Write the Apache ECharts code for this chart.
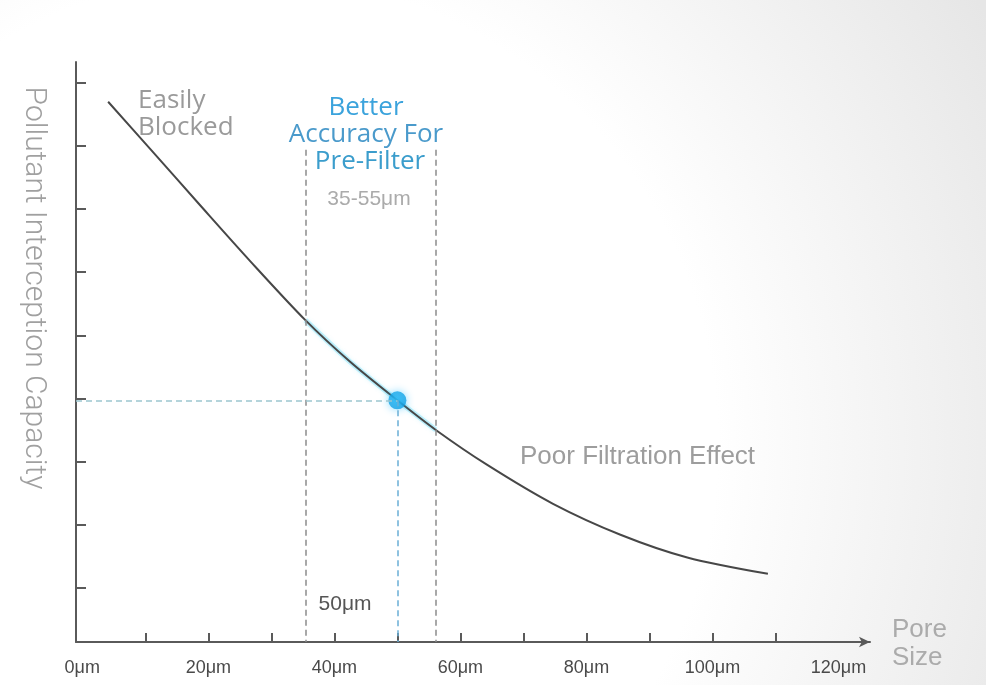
<!DOCTYPE html>
<html>
<head>
<meta charset="utf-8">
<script src="https://cdn.jsdelivr.net/npm/echarts@6/dist/echarts.min.js"></script>
<style>
html,body{margin:0;padding:0;background:#fff;}
#chart{width:986px;height:685px;}
</style>
</head>
<body>
<div id="chart"></div>
<script>
// ---- data ----
var poreSize = [4.1, 10.8, 18.7, 26.6, 35.4, 42.5, 50, 56.1, 64.2, 74.7, 85.4, 96, 108.8];
var capacity = [8.70, 7.95, 7.06, 6.18, 5.24, 4.58, 3.97, 3.50, 2.95, 2.33, 1.84, 1.48, 1.22];
var highlightFrom = 4, highlightTo = 7;       // 35-56 µm segment
var optimumPoint = [50, 3.97];
var rangeLow = 35.4, rangeHigh = 56.1, rangeTop = 7.94;
var xTickValues = [10, 20, 30, 40, 50, 60, 70, 80, 90, 100, 110];
var xLabelValues = [0, 20, 40, 60, 80, 100, 120];
var yTickValues = [1, 2, 3, 4, 5, 6, 7, 8, 9];
var xMin = -1, xMax = 125, yMin = 0.14, yMax = 9.33;

var curve = poreSize.map(function (x, i) { return [x, capacity[i]]; });
var highlight = curve.slice(highlightFrom, highlightTo + 1);

var chart = echarts.init(document.getElementById('chart'), null, {renderer: 'canvas'});

var axisColor = '#5a5a5a';
var option = {
  animation: false,
  backgroundColor: '#fff',
  grid: {left: 76, right: 116, top: 62, bottom: 43},
  xAxis: {
    type: 'value', min: xMin, max: xMax,
    axisLine: {onZero: false, symbol: ['none', 'arrow'], symbolSize: [8, 11],
      lineStyle: {color: axisColor, width: 2}},
    axisTick: {show: true, inside: true, length: 9, customValues: xTickValues,
      lineStyle: {color: axisColor, width: 2}},
    axisLabel: {customValues: xLabelValues, formatter: function (v) { return v + 'μm'; },
      margin: 17, color: '#4a4a4a', fontSize: 18, fontFamily: 'Liberation Sans'},
    splitLine: {show: false}
  },
  yAxis: {
    type: 'value', min: yMin, max: yMax,
    axisLine: {show: true, onZero: false, lineStyle: {color: axisColor, width: 2}},
    axisTick: {show: true, inside: true, length: 10, customValues: yTickValues,
      lineStyle: {color: axisColor, width: 2}},
    axisLabel: {show: false},
    splitLine: {show: false}
  },
  graphic: [
    {type: 'rect', z: -100, silent: true, shape: {x: 0, y: 0, width: 986, height: 685},
      style: {fill: new echarts.graphic.RadialGradient(0.25, 0.65, 1.25, [
        {offset: 0, color: '#ffffff'}, {offset: 0.55, color: '#ffffff'}, {offset: 1, color: '#e6e6e6'}])}},
    {type: 'text', z: 10, x: 33, y: 288, rotation: -Math.PI / 2,
      style: {text: 'Pollutant Interception Capacity', fill: '#a0a0a0', fontSize: 30, fontWeight: 300,
        fontFamily: 'Roboto', align: 'center', verticalAlign: 'middle'}},
    {type: 'text', z: 10, x: 138, y: 101,
      style: {text: 'Easily', fill: '#9a9a9a', fontSize: 26, fontFamily: 'Open Sans', align: 'left', verticalAlign: 'middle'}},
    {type: 'text', z: 10, x: 138, y: 128,
      style: {text: 'Blocked', fill: '#9a9a9a', fontSize: 26, fontFamily: 'Open Sans', align: 'left', verticalAlign: 'middle'}},
    {type: 'text', z: 10, x: 366, y: 108,
      style: {text: 'Better', fill: '#3ba3dc', fontSize: 26, fontFamily: 'Open Sans', align: 'center', verticalAlign: 'middle'}},
    {type: 'text', z: 10, x: 366, y: 135,
      style: {text: 'Accuracy For', fill: '#4a9acb', fontSize: 26, fontFamily: 'Open Sans', align: 'center', verticalAlign: 'middle'}},
    {type: 'text', z: 10, x: 370, y: 162,
      style: {text: 'Pre-Filter', fill: '#3b9dcc', fontSize: 26, fontFamily: 'Open Sans', align: 'center', verticalAlign: 'middle'}},
    {type: 'text', z: 10, x: 369, y: 199,
      style: {text: '35-55μm', fill: '#ababab', fontSize: 21, fontFamily: 'Liberation Sans', align: 'center', verticalAlign: 'middle'}},
    {type: 'text', z: 10, x: 345, y: 604,
      style: {text: '50μm', fill: '#555', fontSize: 21, fontFamily: 'Liberation Sans', align: 'center', verticalAlign: 'middle'}},
    {type: 'text', z: 10, x: 520, y: 457,
      style: {text: 'Poor Filtration Effect', fill: '#9d9d9d', fontSize: 26, fontFamily: 'Liberation Sans', align: 'left', verticalAlign: 'middle'}},
    {type: 'text', z: 10, x: 892, y: 630,
      style: {text: 'Pore', fill: '#ababab', fontSize: 26, fontFamily: 'Liberation Sans', align: 'left', verticalAlign: 'middle'}},
    {type: 'text', z: 10, x: 892, y: 658,
      style: {text: 'Size', fill: '#ababab', fontSize: 26, fontFamily: 'Liberation Sans', align: 'left', verticalAlign: 'middle'}}
  ],
  series: [
    {
      type: 'line', data: [], z: 1, silent: true,
      markLine: {
        silent: true, symbol: 'none', label: {show: false}, animation: false,
        data: [
          [{coord: [rangeLow, rangeTop], lineStyle: {color: '#8c8c8c', type: [6, 4], width: 1.5}}, {coord: [rangeLow, yMin]}],
          [{coord: [rangeHigh, rangeTop], lineStyle: {color: '#8c8c8c', type: [6, 4], width: 1.5}}, {coord: [rangeHigh, yMin]}],
          [{coord: [optimumPoint[0], optimumPoint[1]], lineStyle: {color: '#6aaed6', type: [6, 4], width: 1.5}}, {coord: [optimumPoint[0], yMin]}],
          [{coord: [xMin, optimumPoint[1]], lineStyle: {color: '#9cc6cf', type: [6, 4], width: 1.5}}, {coord: [optimumPoint[0], optimumPoint[1]]}]
        ]
      }
    },
    {
      type: 'line', data: highlight, z: 2, smooth: 0.3, symbol: 'none', silent: true,
      lineStyle: {color: 'rgba(90,215,245,0.35)', width: 5, shadowBlur: 4, shadowColor: 'rgba(90,215,245,0.45)'}
    },
    {
      type: 'line', data: curve, z: 3, smooth: 0.3, symbol: 'none', silent: true,
      lineStyle: {color: '#474747', width: 2}
    },
    {
      type: 'scatter', data: [optimumPoint], z: 4, symbolSize: 18, silent: true,
      itemStyle: {
        color: new echarts.graphic.RadialGradient(0.45, 0.45, 0.6, [
          {offset: 0, color: '#2cbaf5'}, {offset: 1, color: '#0f9ee3'}]),
        shadowBlur: 8, shadowColor: 'rgba(40,190,255,0.7)'
      }
    }
  ]
};
chart.setOption(option);
</script>
</body>
</html>
